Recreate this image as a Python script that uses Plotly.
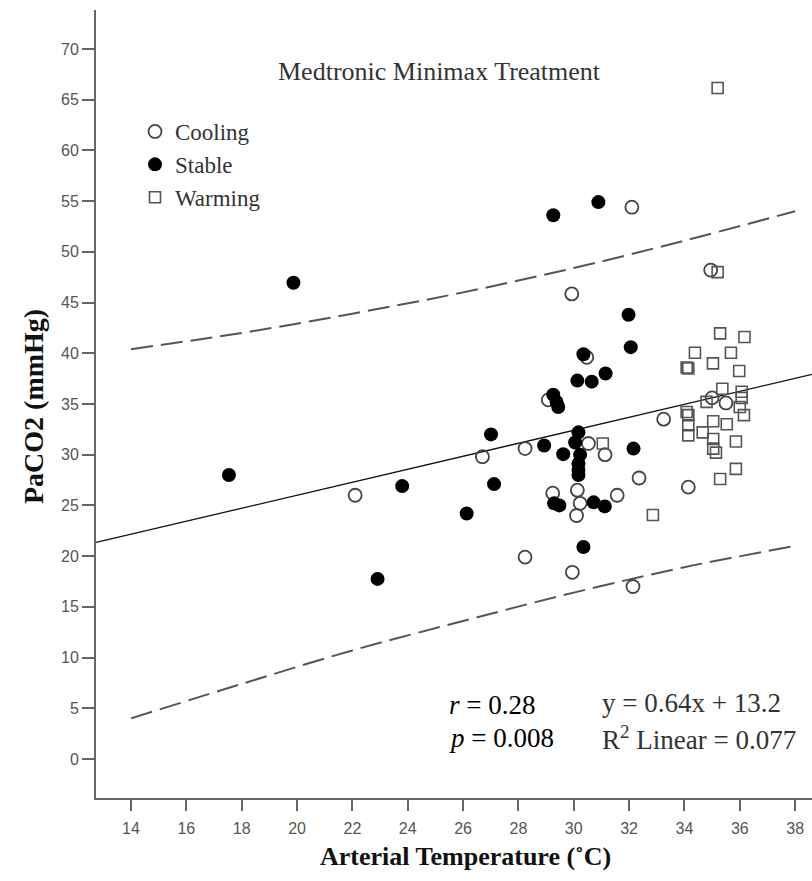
import plotly.graph_objects as go

# ---------------- data ----------------
cooling_x = [22.1, 26.7, 28.24, 28.24, 29.08, 29.24, 29.93, 29.95, 30.13, 30.1, 30.23, 30.47,
             30.53, 31.13, 31.57, 32.1, 32.14, 32.36, 33.25, 34.14, 34.95, 35.0, 35.5]
cooling_y = [26.0, 29.8, 30.6, 19.9, 35.4, 26.2, 45.85, 18.4, 26.5, 24.0, 25.2, 39.6,
             31.1, 30.0, 26.0, 54.4, 17.0, 27.7, 33.5, 26.8, 48.2, 35.6, 35.1]

stable_x = [17.54, 19.87, 22.91, 23.8, 26.13, 27.01, 27.12, 28.93, 29.26, 29.26, 29.38, 29.44,
            29.29, 29.48, 29.62, 30.05, 30.17, 30.23, 30.17, 30.17, 30.17, 30.13, 30.35, 30.65,
            31.15, 30.35, 30.72, 31.12, 30.89, 31.98, 32.06, 32.16]
stable_y = [28.0, 46.95, 17.75, 26.9, 24.2, 32.0, 27.1, 30.9, 53.6, 35.9, 35.2, 34.7,
            25.2, 25.0, 30.05, 31.2, 32.2, 30.0, 29.1, 28.5, 28.0, 37.3, 39.9, 37.2,
            38.0, 20.9, 25.3, 24.9, 54.9, 43.8, 40.6, 30.6]

warming_x = [35.2, 35.2, 35.29, 36.17, 34.38, 35.68, 34.08, 34.14, 35.03, 35.98, 35.37, 36.07,
             36.07, 34.8, 36.0, 36.15, 34.08, 34.14, 34.14, 34.14, 34.66, 35.04, 35.53, 35.04,
             35.04, 35.14, 35.86, 35.86, 35.29, 32.86, 31.05]
warming_y = [66.15, 48.0, 41.96, 41.6, 40.05, 40.05, 38.6, 38.5, 39.0, 38.25, 36.5, 36.2,
             35.6, 35.2, 34.7, 33.9, 34.2, 33.9, 32.9, 31.9, 32.2, 33.3, 33.0, 31.55,
             30.6, 30.2, 31.3, 28.6, 27.6, 24.05, 31.1]

fit_slope = 0.64
fit_intercept = 13.2

band_x = [14, 18, 22, 26, 30, 34, 38]
band_upper = [40.4, 42.0, 43.9, 46.0, 48.4, 51.1, 54.0]
band_lower = [4.0, 7.4, 10.7, 13.6, 16.4, 18.9, 21.0]

x_ticks = list(range(14, 39, 2))
y_ticks = list(range(0, 71, 5))

x_range = [12.735, 38.61]
y_range = [-3.85, 73.84]

# ---------------- figure ----------------
SERIF = "Liberation Serif, Times New Roman, serif"
SANS = "Liberation Sans, Arial, sans-serif"

fig = go.Figure()

fit_x = [x_range[0], x_range[1]]
fig.add_trace(go.Scatter(x=fit_x, y=[fit_slope * v + fit_intercept for v in fit_x],
                         mode="lines", line=dict(color="#111", width=1.3),
                         showlegend=False, hoverinfo="skip"))
for yb in (band_upper, band_lower):
    fig.add_trace(go.Scatter(x=band_x, y=yb, mode="lines",
                             line=dict(color="#555", width=2, dash="22px,8px", shape="spline"),
                             showlegend=False, hoverinfo="skip"))

fig.add_trace(go.Scatter(x=cooling_x, y=cooling_y, mode="markers", name="Cooling",
                         legendrank=1,
                         marker=dict(symbol="circle-open", size=13, color="#444",
                                     line=dict(width=1.8, color="#444"))))
fig.add_trace(go.Scatter(x=warming_x, y=warming_y, mode="markers", name="Warming",
                         legendrank=3,
                         marker=dict(symbol="square-open", size=11, color="#555",
                                     line=dict(width=1.6, color="#555"))))
fig.add_trace(go.Scatter(x=stable_x, y=stable_y, mode="markers", name="Stable",
                         legendrank=2,
                         marker=dict(symbol="circle", size=14, color="#000")))

L, R, T, B = 96, 0, 10, 83
W, H = 812, 881
pw, ph = W - L - R, H - T - B


def px(xp):
    return (xp - L) / pw


def py(yp):
    return (H - B - yp) / ph


fig.update_layout(
    width=W, height=H,
    margin=dict(l=L, r=R, t=T, b=B, pad=0),
    paper_bgcolor="white", plot_bgcolor="white",
    showlegend=True,
    legend=dict(x=px(135), y=py(110), xanchor="left", yanchor="top",
                font=dict(family=SERIF, size=23, color="#333"),
                bgcolor="rgba(0,0,0,0)", borderwidth=0, tracegroupgap=0,
                itemsizing="trace"),
    xaxis=dict(range=x_range, tickvals=x_ticks, ticks="outside", ticklen=11,
               tickwidth=1.5, tickcolor="#666", showline=True, linecolor="#666",
               linewidth=2, showgrid=False, zeroline=False, ticklabelstandoff=4,
               tickfont=dict(family=SANS, size=16, color="#555")),
    yaxis=dict(range=y_range, tickvals=y_ticks, ticks="outside", ticklen=12,
               tickwidth=1.5, tickcolor="#666", showline=True, linecolor="#666",
               linewidth=2, showgrid=False, zeroline=False,
               tickfont=dict(family=SANS, size=16, color="#555")),
)

ann = [
    dict(text="Medtronic Minimax Treatment", x=px(439), y=py(72), xanchor="center",
         yanchor="middle", font=dict(family=SERIF, size=26, color="#333")),
    dict(text="<i>r</i> = 0.28", x=px(447), y=py(705), xanchor="left", yanchor="middle",
         font=dict(family=SERIF, size=27, color="#000")),
    dict(text="<i>p</i> = 0.008", x=px(447), y=py(738), xanchor="left", yanchor="middle",
         font=dict(family=SERIF, size=27, color="#000")),
    dict(text="y = 0.64x + 13.2", x=px(600), y=py(703), xanchor="left", yanchor="middle",
         font=dict(family=SERIF, size=27, color="#333")),
    dict(text="R<sup>2</sup> Linear = 0.077", x=px(600), y=py(738), xanchor="left",
         yanchor="middle", font=dict(family=SERIF, size=27, color="#333")),
    dict(text="<b>Arterial Temperature (˚C)</b>", x=px(465), y=py(856), xanchor="center",
         yanchor="middle", font=dict(family=SERIF, size=26, color="#111")),
    dict(text="<b>PaCO2 (mmHg)</b>", x=px(33), y=py(407), xanchor="center",
         yanchor="middle", textangle=-90, font=dict(family=SERIF, size=28, color="#111")),
]
for a in ann:
    a.update(xref="paper", yref="paper", showarrow=False)
fig.update_layout(annotations=ann)

fig.write_html("out.html")
